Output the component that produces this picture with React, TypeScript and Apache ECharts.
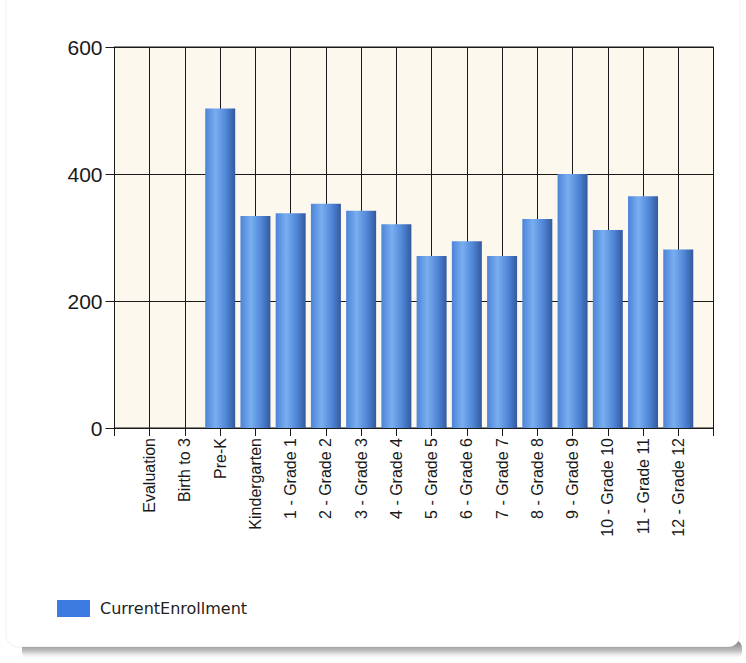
import React, { useEffect, useRef } from "react";
import * as echarts from "echarts";

const categories = [
  "Evaluation",
  "Birth to 3",
  "Pre-K",
  "Kindergarten",
  "1 - Grade 1",
  "2 - Grade 2",
  "3 - Grade 3",
  "4 - Grade 4",
  "5 - Grade 5",
  "6 - Grade 6",
  "7 - Grade 7",
  "8 - Grade 8",
  "9 - Grade 9",
  "10 - Grade 10",
  "11 - Grade 11",
  "12 - Grade 12",
];
const currentEnrollment = [0, 0, 503, 334, 338, 353, 342, 321, 271, 294, 271, 329, 400, 312, 365, 281];
const yTicks = [0, 200, 400, 600];
const seriesName = "CurrentEnrollment";

export default function App() {
  const ref = useRef<HTMLDivElement>(null);
  useEffect(() => {
    if (!ref.current) return;
    const chart = echarts.init(ref.current, undefined, { renderer: "svg" });
    const axisData = ["", ...categories, ""];
    const values: any[] = ["-", ...currentEnrollment, "-"];
    chart.setOption({
      animation: false,
      backgroundColor: "#ffffff",
      graphic: [
        {
          type: "rect",
          z: -11,
          shape: { x: 22, y: 640, width: 720, height: 20, r: 8 },
          style: {
            fill: new echarts.graphic.LinearGradient(0, 0, 0, 1, [
              { offset: 0, color: "rgba(90,90,90,0.85)" },
              { offset: 0.55, color: "rgba(150,150,150,0.6)" },
              { offset: 1, color: "rgba(255,255,255,0)" },
            ]),
          },
        },
        {
          type: "rect",
          z: -10,
          shape: { x: 6, y: -14, width: 734, height: 661, r: 12 },
          style: {
            fill: "#ffffff",
            stroke: "rgba(0,0,0,0.06)",
            lineWidth: 1,
          },
        },
      ],
      grid: {
        left: 114.5,
        right: 32.5,
        top: 47,
        bottom: 235,
        show: true,
        backgroundColor: "#FDF8EE",
        borderColor: "#1a1a1a",
        borderWidth: 1,
      },
      legend: {
        left: 57,
        top: 600,
        padding: 0,
        icon: "rect",
        itemWidth: 33,
        itemHeight: 17,
        data: [{ name: seriesName, itemStyle: { color: "#3c7ae0" } }],
        textStyle: {
          fontFamily: "DejaVu Sans",
          fontSize: 16,
          color: "#222",
          padding: [0, 0, 0, 5],
        },
      },
      xAxis: {
        type: "category",
        data: axisData,
        boundaryGap: false,
        axisLine: { show: true, lineStyle: { color: "#1a1a1a", width: 1 } },
        axisTick: { show: true, interval: 0, length: 8, lineStyle: { color: "#1a1a1a" } },
        splitLine: { show: true, interval: 0, lineStyle: { color: "#1a1a1a", width: 1 } },
        axisLabel: {
          interval: 0,
          rotate: 90,
          margin: 10,
          fontFamily: "Liberation Sans",
          fontSize: 16,
          color: "#1a1a1a",
        },
      },
      yAxis: {
        type: "value",
        min: yTicks[0],
        max: yTicks[yTicks.length - 1],
        interval: 200,
        axisLine: { show: true, lineStyle: { color: "#1a1a1a", width: 1 } },
        axisTick: { show: true, length: 9, lineStyle: { color: "#1a1a1a" } },
        splitLine: { show: true, lineStyle: { color: "#1a1a1a", width: 1 } },
        axisLabel: {
          margin: 12,
          fontFamily: "Liberation Sans",
          fontSize: 21,
          color: "#1a1a1a",
        },
      },
      series: [
        {
          name: seriesName,
          type: "bar",
          data: values,
          barWidth: 30,
          itemStyle: {
            color: new echarts.graphic.LinearGradient(0, 0, 1, 0, [
              { offset: 0, color: "#4c84d8" },
              { offset: 0.35, color: "#79aef0" },
              { offset: 0.7, color: "#4f86d6" },
              { offset: 1, color: "#33599f" },
            ]),
          },
        },
      ],
    });
    return () => chart.dispose();
  }, []);
  return (
    <div
      ref={ref}
      style={{ position: "absolute", left: 0, top: 0, width: 746, height: 663 }}
    />
  );
}
